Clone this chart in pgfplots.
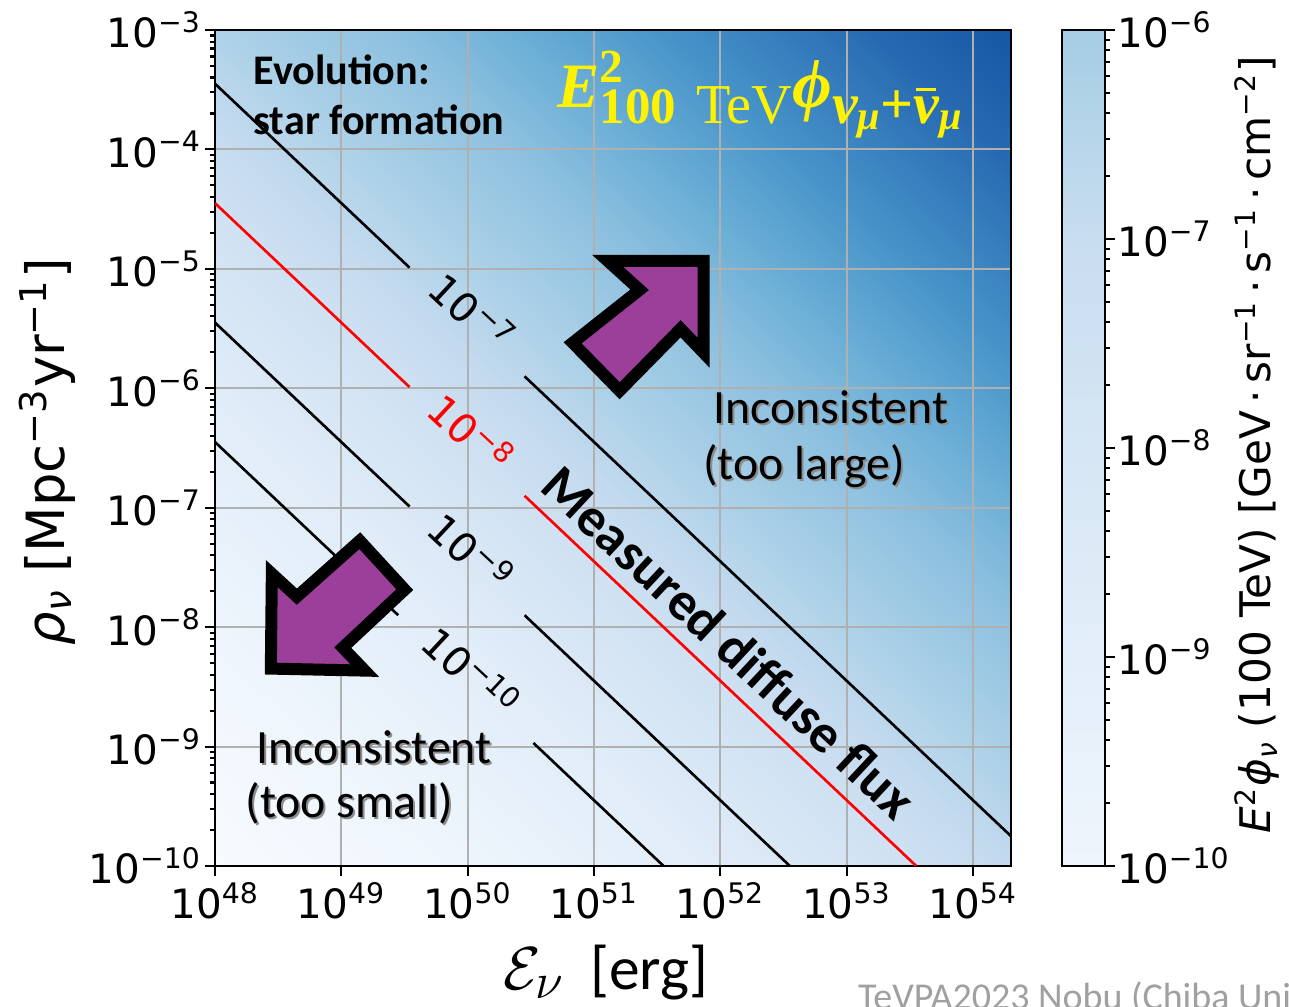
\documentclass[border=0pt]{standalone}
\usepackage{amsmath}
\usepackage{fontspec}
\setmainfont{DejaVu Sans}
\newfontfamily\calibri{Carlito}
\newfontfamily\serifrm{Liberation Serif}
\usepackage{pgfplots}
\pgfplotsset{compat=1.18}

\definecolor{gridgray}{HTML}{B0B0B0}
\definecolor{arrowpurple}{HTML}{9B3F9B}
\definecolor{markgray}{HTML}{A0A0A0}
\definecolor{shadowgray}{HTML}{8C8C8C}

\newcommand{\tl}[1]{10\textsuperscript{#1}}
\newcommand{\barnu}{\ooalign{ν\cr\hidewidth\raisebox{0.55em}{\rule{0.34em}{0.06em}}\hidewidth\cr}}

\pgfplotsset{
  bgblues/.style={colormap={bgblues}{
    rgb255(0pt)=(247,251,255) rgb255(20pt)=(238,245,252) rgb255(40pt)=(224,236,248)
    rgb255(55pt)=(207,225,242) rgb255(63pt)=(194,217,238) rgb255(70pt)=(174,210,232)
    rgb255(84pt)=(141,192,223) rgb255(94pt)=(106,174,214) rgb255(106pt)=(69,146,200)
    rgb255(122pt)=(39,105,177) rgb255(133pt)=(22,86,164)}},
  cbblues/.style={colormap={cbblues}{
    rgb255(0pt)=(239,245,252) rgb255(1pt)=(227,238,249) rgb255(2pt)=(214,230,244)
    rgb255(3pt)=(200,221,240) rgb255(4pt)=(165,205,227)}},
}

\begin{document}
\begin{tikzpicture}

% main panel
\begin{axis}[
  at={(2.15cm,1.41cm)}, anchor=south west,
  scale only axis, width=7.96cm, height=8.36cm,
  set layers,
  xmode=log, ymode=log,
  xmin=1e48, xmax=1.995e54, ymin=1e-10, ymax=1e-3,
  xtick={1e48,1e49,1e50,1e51,1e52,1e53,1e54},
  xticklabels={\tl{48},\tl{49},\tl{50},\tl{51},\tl{52},\tl{53},\tl{54}},
  ytick={1e-10,1e-9,1e-8,1e-7,1e-6,1e-5,1e-4,1e-3},
  yticklabels={\tl{−10},\tl{−9},\tl{−8},\tl{−7},\tl{−6},\tl{−5},\tl{−4},\tl{−3}},
  xminorticks=false,
  tick align=outside, tick pos=left,
  major tick length=0.1cm, minor tick length=0.055cm,
  tick style={black, line width=0.6pt},
  axis line style={black, line width=0.8pt},
  grid=major, major grid style={gridgray, line width=0.6pt},
  tick label style={font=\fontsize{11.5}{13}\selectfont},
  yticklabel style={xshift=0.09cm},
  xticklabel style={yshift=0.06cm},
  bgblues, point meta min=38, point meta max=51.3,
]
\addplot[patch, shader=interp, point meta=explicit, on layer=axis background]
  coordinates {(1e48,1e-10) [38] (1.995e54,1e-10) [44.3] (1.995e54,1e-3) [51.3]
               (1e48,1e-10) [38] (1.995e54,1e-3) [51.3] (1e48,1e-3) [45]};
% contours of constant flux
\addplot[black, line width=0.75pt] coordinates {(1e48,3.548e-4) (3.467e49,1.023e-5)};
\addplot[black, line width=0.75pt] coordinates {(2.818e50,1.259e-6) (1.995e54,1.778e-10)};
\addplot[red, line width=0.75pt] coordinates {(1e48,3.548e-5) (3.467e49,1.023e-6)};
\addplot[red, line width=0.75pt] coordinates {(2.818e50,1.259e-7) (3.548e53,1e-10)};
\addplot[black, line width=0.75pt] coordinates {(1e48,3.548e-6) (3.467e49,1.023e-7)};
\addplot[black, line width=0.75pt] coordinates {(2.818e50,1.259e-8) (3.548e52,1e-10)};
\addplot[black, line width=0.75pt] coordinates {(1e48,3.548e-7) (2.818e49,1.259e-8)};
\addplot[black, line width=0.75pt] coordinates {(3.311e50,1.072e-9) (3.548e51,1e-10)};
\end{axis}

% colorbar
\begin{axis}[
  at={(10.62cm,1.41cm)}, anchor=south west,
  scale only axis, width=0.43cm, height=8.36cm,
  ymode=log, xmin=0, xmax=1, ymin=1e-10, ymax=1e-6,
  xtick=\empty,
  ytick={1e-10,1e-9,1e-8,1e-7,1e-6},
  yticklabels={\tl{−10},\tl{−9},\tl{−8},\tl{−7},\tl{−6}},
  ytick pos=right, yticklabel pos=right,
  tick align=outside,
  major tick length=0.1cm, minor tick length=0.055cm,
  tick style={black, line width=0.6pt},
  axis line style={black, line width=0.8pt},
  tick label style={font=\fontsize{11.5}{13}\selectfont},
  yticklabel style={xshift=-0.1cm},
  axis on top,
  cbblues, point meta min=-10, point meta max=-6,
]
\addplot[patch, shader=interp, point meta=explicit]
  coordinates {(0,1e-10) [-10] (1,1e-10) [-10] (1,1e-6) [-6]
               (0,1e-10) [-10] (1,1e-6) [-6] (0,1e-6) [-6]};
\end{axis}

\begin{scope}[x=0.01cm, y=-0.01cm, yshift=10.07cm]
% axis labels
\node[rotate=90, font=\fontsize{15}{18}\selectfont] at (47,452)
  {\textit{ρ}\textsubscript{\textit{ν}} [Mpc\textsuperscript{−3}yr\textsuperscript{−1}]};
\node[anchor=base west, inner sep=0, font=\fontsize{19}{22}\selectfont] at (503,990)
  {$\mathcal{E}_{\nu}$};
\node[anchor=base west, inner sep=0, font=\calibri\fontsize{17.5}{20}\selectfont] at (590,990) {[erg]};
\node[rotate=90, font=\fontsize{12}{15}\selectfont] at (1258,445)
  {\textit{E}\textsuperscript{2}\textit{ϕ}\textsubscript{\textit{ν}} (100 TeV) [GeV\,·\,sr\textsuperscript{−1}\,·\,s\textsuperscript{−1}\,·\,cm\textsuperscript{−2}]};

% contour labels
\begin{scope}[every node/.style={rotate=-43, font=\fontsize{11.5}{13}\selectfont}]
\node at (473,312) {\tl{−7}};
\node[text=red] at (472,433) {\tl{−8}};
\node at (472,552) {\tl{−9}};
\node at (472,672) {\tl{−10}};
\end{scope}

% arrows
\filldraw[fill=arrowpurple, draw=black, line width=0.12cm, miter limit=10]
  (704,261) -- (608,261) -- (640,290) -- (573,343) -- (620,391) -- (681,329) -- (704,353) -- cycle;
\filldraw[fill=arrowpurple, draw=black, line width=0.12cm, miter limit=10]
  (271,669) -- (272,574) -- (297,597) -- (360,541) -- (405,590) -- (343,648) -- (365,671) -- cycle;

% annotations
\begin{scope}[every node/.append style={inner sep=0}]
\node[anchor=base west, font=\calibri\bfseries\fontsize{12}{14}\selectfont] at (253,85) {Evolution:};
\node[anchor=base west, font=\calibri\bfseries\fontsize{12}{14}\selectfont] at (253,135) {star formation};
\node[anchor=base west, text=yellow] at (557,108)
  {\serifrm\bfseries\itshape\fontsize{18}{20}\selectfont
   E\rlap{\raisebox{0.4em}{\upshape\fontsize{13.5}{15}\selectfont 2}}%
   \raisebox{-0.24em}{\upshape\fontsize{14.5}{16}\selectfont 100\hspace{0.4em}{\mdseries\fontsize{16}{18}\selectfont TeV}}%
   {\fontsize{19.5}{21}\selectfont ϕ}%
   \raisebox{-0.24em}{\fontsize{16.5}{18}\selectfont ν\raisebox{-0.11em}{\fontsize{11.5}{13}\selectfont μ}{\upshape +}\barnu\raisebox{-0.11em}{\fontsize{11.5}{13}\selectfont μ}}};
\node[rotate=-43, font=\calibri\bfseries\fontsize{15.4}{18}\selectfont] at (730,643) {Measured diffuse flux};

\foreach \dx/\dy/\col in {2/2/shadowgray, 0/0/black} {
  \node[anchor=base west, text=\col, font=\calibri\fontsize{13.6}{16}\selectfont] at (713+\dx,424+\dy) {Inconsistent};
  \node[anchor=base west, text=\col, font=\calibri\fontsize{13.6}{16}\selectfont] at (703+\dx,480+\dy) {(too large)};
  \node[anchor=base west, text=\col, font=\calibri\fontsize{13.6}{16}\selectfont] at (256+\dx,764+\dy) {Inconsistent};
  \node[anchor=base west, text=\col, font=\calibri\fontsize{13.6}{16}\selectfont] at (245+\dx,818+\dy) {(too small)};
}

\begin{scope}
\clip (0,0) rectangle (1289,1007);
\node[anchor=base west, text=markgray, font=\calibri\fontsize{10.8}{12}\selectfont] at (858,1010) {TeVPA2023 Nobu (Chiba Univ.)};
\end{scope}
\end{scope}
\end{scope}

\pgfresetboundingbox
\path[use as bounding box] (0,0) rectangle (12.89,10.07);
\end{tikzpicture}
\end{document}
